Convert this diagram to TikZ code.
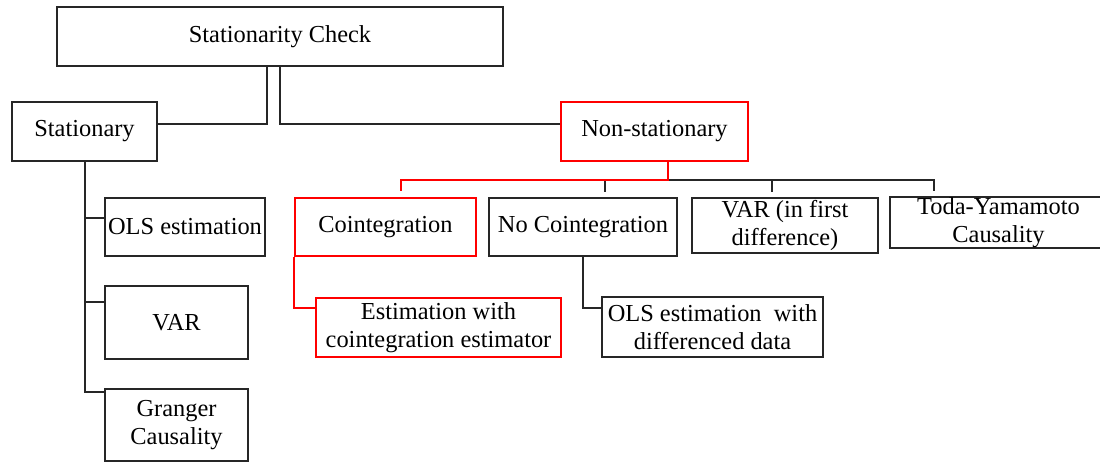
\documentclass[tikz,border=0pt]{standalone}
\usepackage{fontspec}
\setmainfont{Liberation Serif}

\begin{document}
\begin{tikzpicture}[
  x=0.5pt, y=-0.5pt,
  every node/.style={font=\fontsize{12.2pt}{14pt}\selectfont, align=center},
  box/.style={draw=black!85, line width=1pt, inner sep=0pt},
  redbox/.style={draw=red, line width=0.9pt, inner sep=0pt},
  link/.style={draw=black!85, line width=1pt},
  redlink/.style={draw=red, line width=0.9pt}
]
\useasboundingbox (0,0) rectangle (1100,462);
\clip (0,0) rectangle (1100,462);

% Top level
\node[box, minimum width=223pt, minimum height=29.5pt] (check) at (280,36.5) {Stationarity Check};

% Stationary side
\node[box, minimum width=72.5pt, minimum height=29.5pt] (stat) at (84.5,131.5) {Stationary};
\node[box, minimum width=80pt, minimum height=29pt] (ols) at (185,227) {OLS estimation};
\node[box, minimum width=71.5pt, minimum height=36.5pt] (var) at (176.5,322.5) {VAR};
\node[box, minimum width=71.5pt, minimum height=36pt] (granger) at (176.5,425) {Granger\\Causality};

% Non-stationary side
\node[redbox, minimum width=93.5pt, minimum height=29.5pt] (nonstat) at (654.5,131.5) {Non-stationary};
\node[redbox, minimum width=90.5pt, minimum height=29pt] (coint) at (385.5,227) {Cointegration};
\node[box, minimum width=94pt, minimum height=29pt] (nocoint) at (583,227) {No Cointegration};
\node[box, minimum width=93pt, minimum height=27.5pt] (vardiff) at (785,225.5) {VAR (in first\\difference)};
\node[box, minimum width=108.5pt, minimum height=24.5pt] (toda) at (998.5,222.5) {Toda-Yamamoto\\Causality};
\node[redbox, minimum width=122.5pt, minimum height=29.5pt] (estcoint) at (438.5,327.5) {Estimation with\\cointegration estimator};
\node[box, minimum width=110.5pt, minimum height=30pt] (olsdiff) at (712.5,327) {OLS estimation\ \ with\\differenced data};

% Split below the check
\draw[link] ([xshift=-6.5pt]check.south) |- ([yshift=3.75pt]stat.east);
\draw[link] (check.south) |- ([yshift=4pt]nonstat.west);

% Stationary leaves
\foreach \leaf/\dy in {ols/10.5, var/8.5, granger/2}
  \draw[link] (stat.south) |- ([yshift=-\dy pt]\leaf.north west);

% Non-stationary bus, red path drawn last
\coordinate (bus) at ([xshift=6.75pt,yshift=-9pt]nonstat.south);
\draw[link] (bus) -| ([xshift=11pt,yshift=2.5pt]nocoint.north);
\draw[link] (bus) -| ([xshift=-6.5pt,yshift=2.5pt]vardiff.north);
\draw[link] (bus) -| ([xshift=-32.25pt,yshift=2.5pt]toda.north);
\draw[redlink] ([xshift=6.75pt]nonstat.south) -- (bus) -| ([xshift=7.75pt,yshift=3pt]coint.north);

% Second level
\draw[redlink] (coint.south west) |- ([yshift=-5.5pt]estcoint.north west);
\draw[link] (nocoint.south) |- ([yshift=-6pt]olsdiff.north west);

\end{tikzpicture}
\end{document}
